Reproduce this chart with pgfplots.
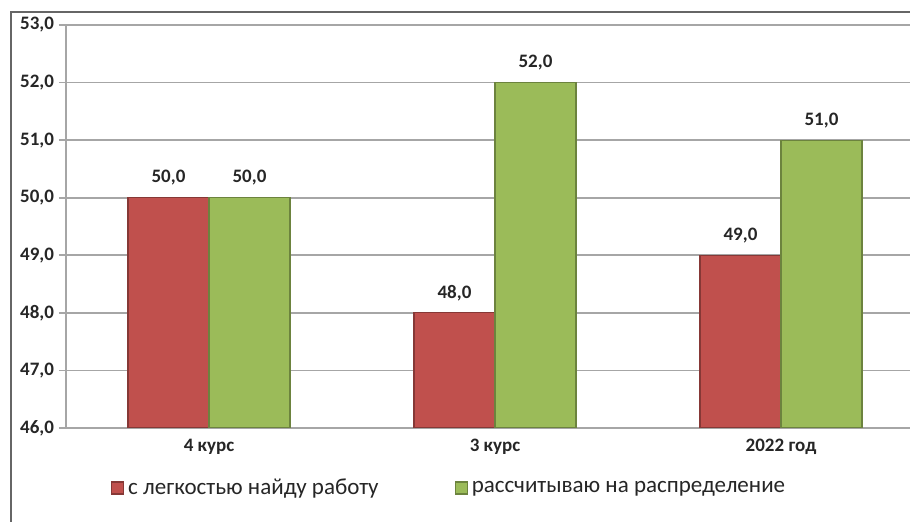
\documentclass[border=0pt]{standalone}
\usepackage{pgfplots}
\pgfplotsset{compat=1.18}
\usepackage{fontspec}
\setmainfont{Carlito}
\definecolor{cred}{HTML}{C0504D}
\definecolor{cgreen}{HTML}{9BBB59}
\definecolor{cgridc}{HTML}{A6A6A6}
\begin{document}
\begin{tikzpicture}
\useasboundingbox (0,0) rectangle (455pt,-261pt);
\clip (0,0) rectangle (455pt,-261pt);
\fill[white] (0,0) rectangle (455pt,-261pt);
\draw[gray!80!black, line width=0.8pt] (5.5pt,-6pt) rectangle (600pt,-400pt);
\begin{axis}[
  at={(33pt,-214pt)}, anchor=south west,
  scale only axis, width=429pt, height=201.5pt,
  ybar=0pt, bar width=40.5pt,
  xmin=-0.5, xmax=2.5, ymin=46, ymax=53,
  ytick={46,47,...,53},
  xtick={0,1,2},
  xticklabels={4 курс, 3 курс, 2022 год},
  major x tick style={draw=none},
  extra x ticks={-0.5,0.5,1.5,2.5},
  extra x tick labels={},
  extra x tick style={grid=none, major tick length=3pt, tick style={cgridc, line width=0.8pt}},
  tick align=outside, major tick length=3.5pt,
  tick style={cgridc, line width=0.8pt},
  axis line style={cgridc, line width=0.8pt},
  axis x line*=bottom, axis y line*=left,
  ymajorgrids, grid style={cgridc, line width=0.8pt},
  /pgf/number format/.cd, fixed, fixed zerofill, precision=1, use comma, assume math mode=true,
  /pgfplots/.cd,
  ticklabel style={font=\fontsize{9.5}{11}\selectfont\bfseries, text=black!85},
  yticklabel shift=-1pt,
  xticklabel shift=-1.5pt,
  nodes near coords,
  every node near coord/.append style={font=\fontsize{9.5}{11}\selectfont\bfseries, text=black!85, yshift=2.5pt},
  legend columns=2,
  legend style={at={(0.045,-0.149)}, anchor=west, draw=none, fill=none,
    font=\fontsize{11.5}{13}\selectfont, text=black!85,
    /tikz/every even column/.append style={column sep=36pt}},
  legend image code/.code={\fill[#1] (0pt,-3pt) rectangle (6pt,3pt);},
]
\addplot[fill=cred, draw=cred!70!black, line width=0.6pt] coordinates {(0,50) (1,48) (2,49)};
\addlegendentry{с легкостью найду работу}
\addplot[fill=cgreen, draw=cgreen!70!black, line width=0.6pt] coordinates {(0,50) (1,52) (2,51)};
\addlegendentry{рассчитываю на распределение}
\end{axis}
\end{tikzpicture}
\end{document}
